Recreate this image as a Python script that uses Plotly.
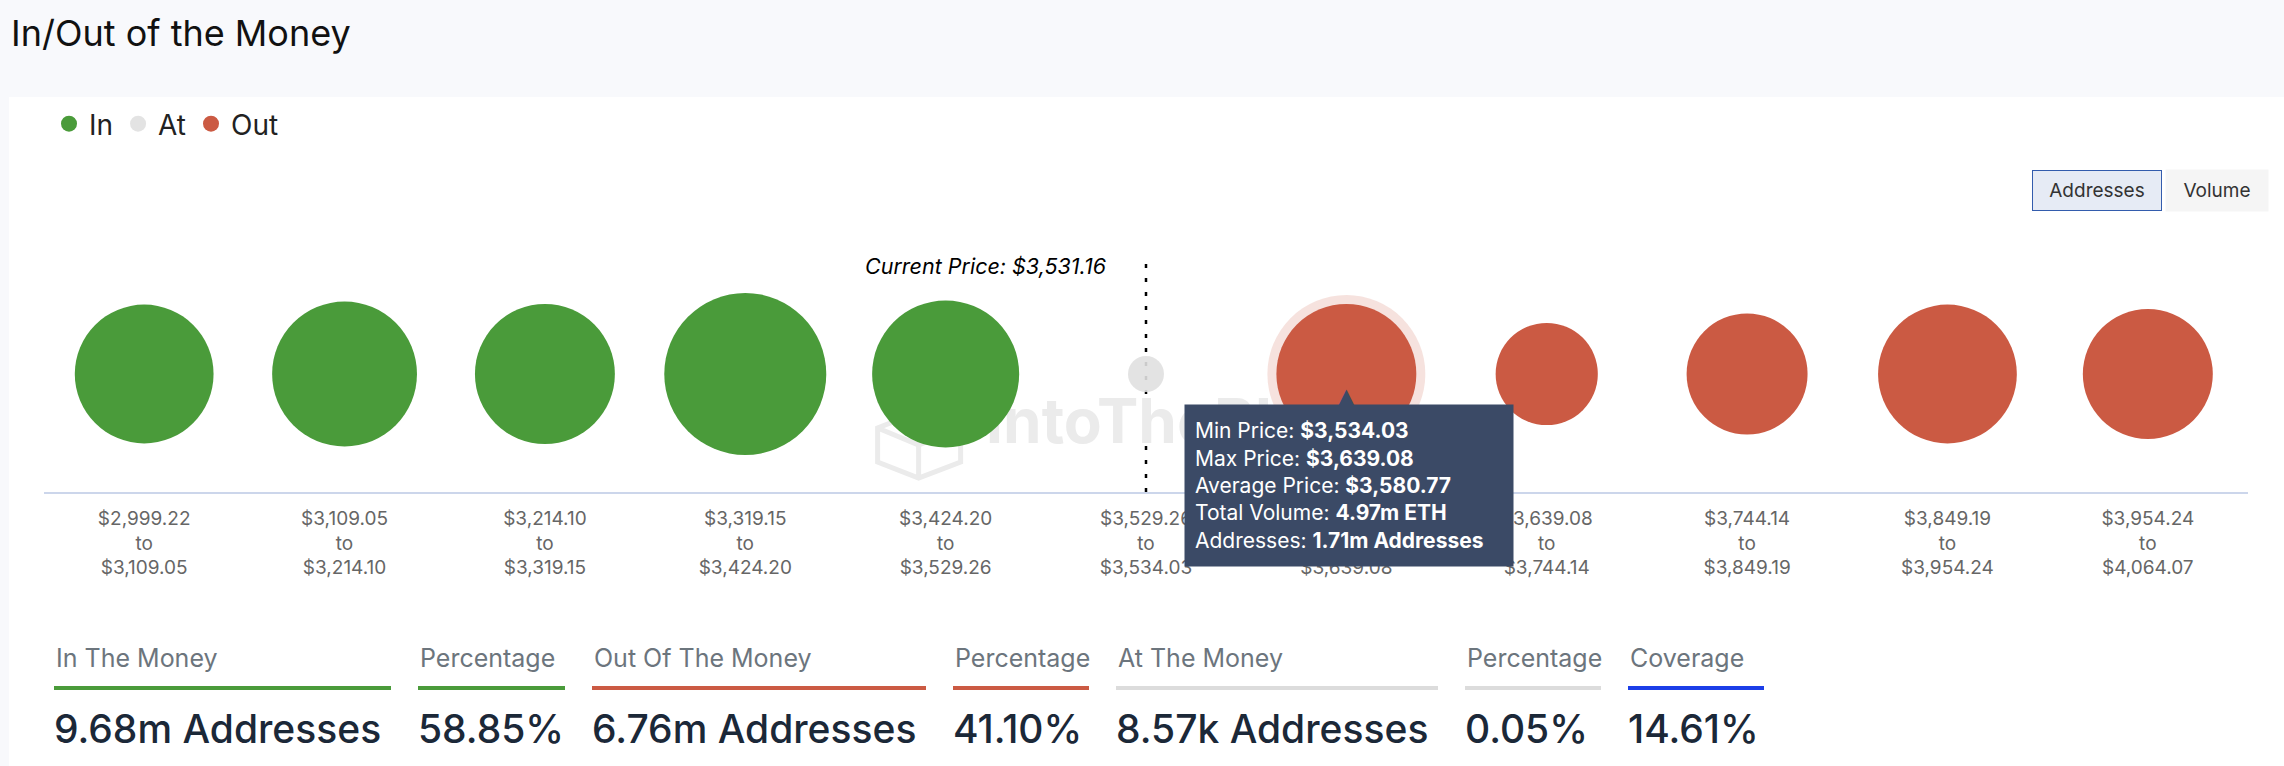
import plotly.graph_objects as go

# price buckets
bin_low = ["$2,999.22", "$3,109.05", "$3,214.10", "$3,319.15", "$3,424.20", "$3,529.26",
           "$3,534.03", "$3,639.08", "$3,744.14", "$3,849.19", "$3,954.24"]
bin_high = ["$3,109.05", "$3,214.10", "$3,319.15", "$3,424.20", "$3,529.26", "$3,534.03",
            "$3,639.08", "$3,744.14", "$3,849.19", "$3,954.24", "$4,064.07"]

# addresses per bucket, millions
in_addresses = [1.68, 1.84, 1.71, 2.33, 1.90]
at_addresses = [0.00857]
out_addresses = [1.71, 0.86, 1.25, 1.68, 1.46]

current_price = "$3,531.16"

# hovered bucket (tooltip)
tip_bin = 6
tip_rows = [("Min Price", "$3,534.03"), ("Max Price", "$3,639.08"), ("Average Price", "$3,580.77"),
            ("Total Volume", "4.97m ETH"), ("Addresses", "1.71m Addresses")]

# summary row
stat_titles = ["In The Money", "Percentage", "Out Of The Money", "Percentage",
               "At The Money", "Percentage", "Coverage"]
stat_values = ["9.68m Addresses", "58.85%", "6.76m Addresses", "41.10%",
               "8.57k Addresses", "0.05%", "14.61%"]

GREEN = "#4a9b3a"
RED = "#cb5a43"
GREY = "#e0e0e0"
BLUE = "#1c3ee8"
WATERMARK = "#ebebeb"
stat_colors = [GREEN, GREEN, RED, RED, "#dcdcdc", "#dcdcdc", BLUE]
stat_left = [54, 418, 592, 953, 1116, 1465, 1628]
stat_right = [391, 565, 926, 1089, 1438, 1601, 1764]

W, H = 2284, 766
ML, MR, MT, MB = 44, 36, 256, 274
PW = W - ML - MR
PH = H - MT - MB


def px2x(px):
    return (px - ML) / PW


def px2y(py):
    return (H - MB - py) / PH


# bubble diameter (highcharts style: area between min and max size)
all_vals = in_addresses + at_addresses + out_addresses
zmin, zmax = min(all_vals), max(all_vals)
DMIN, DMAX = 36, 162


def bubble(v):
    pos = (v - zmin) / (zmax - zmin)
    return (DMIN ** 2 + pos * (DMAX ** 2 - DMIN ** 2)) ** 0.5


n_in = len(in_addresses)
in_x = list(range(n_in))
at_x = [n_in + i for i in range(len(at_addresses))]
out_x = [n_in + len(at_addresses) + i for i in range(len(out_addresses))]
all_x = in_x + at_x + out_x

fig = go.Figure()

# watermark text
fig.add_trace(go.Scatter(
    x=[4.2], y=[-0.45], mode="text", text=["IntoTheBlock"], textposition="middle right",
    textfont=dict(family="Inter", size=62, color=WATERMARK, weight=700),
    showlegend=False, hoverinfo="skip"))

# hover halo
fig.add_trace(go.Scatter(
    x=[all_x[tip_bin]], y=[0], mode="markers", showlegend=False, hoverinfo="skip",
    marker=dict(size=[bubble(all_vals[tip_bin]) + 18], sizemode="diameter",
                color="rgba(203,90,67,0.25)", line=dict(width=0))))

for name, xs, vals, col in [("In", in_x, in_addresses, GREEN),
                            ("At", at_x, at_addresses, GREY),
                            ("Out", out_x, out_addresses, RED)]:
    fig.add_trace(go.Scatter(
        x=xs, y=[0] * len(xs), mode="markers", name=name,
        marker=dict(size=[bubble(v) for v in vals], sizemode="diameter",
                    color=col, opacity=0.9 if name == "At" else 1, line=dict(width=0))))

ann = []
ann.append(dict(xref="paper", yref="paper", x=px2x(9), y=px2y(33), xanchor="left", yanchor="middle",
                text="In/Out of the Money", showarrow=False,
                font=dict(family="Inter", size=36, color="#111111", weight=400)))
# buttons
ann.append(dict(xref="paper", yref="paper", x=px2x(2097), y=px2y(190), xanchor="center", yanchor="middle",
                text="Addresses", showarrow=False, width=124, height=35, bgcolor="#e6ebf5",
                bordercolor="#335cad", borderwidth=1, borderpad=2,
                font=dict(family="Inter", size=19, color="#333333")))
ann.append(dict(xref="paper", yref="paper", x=px2x(2217), y=px2y(190), xanchor="center", yanchor="middle",
                text="Volume", showarrow=False, width=96, height=35, bgcolor="#f5f5f5",
                borderpad=3, font=dict(family="Inter", size=19, color="#333333")))
# current price
ann.append(dict(xref="x", yref="paper", x=at_x[0], y=1, xanchor="right", yanchor="middle",
                xshift=-38, yshift=-10, text="<i>Current Price: " + current_price + "</i>",
                showarrow=False, font=dict(family="Inter", size=21.5, color="#000000")))
# tooltip
tip_text = "<br>".join(f"{k}: <b>{v}</b>" for k, v in tip_rows)
ann.append(dict(xref="x", yref="y", x=all_x[tip_bin], y=0, xanchor="center", yanchor="top",
                xshift=3, yshift=-30, text=tip_text, showarrow=False, align="left", valign="middle",
                width=308, height=141, borderpad=10, bgcolor="#3b4a66",
                font=dict(family="Inter", size=21, color="#ffffff")))
ann.append(dict(xref="x", yref="y", x=all_x[tip_bin], y=0, xanchor="center", yanchor="bottom",
                yshift=-39, text="▲", showarrow=False,
                font=dict(family="DejaVu Sans", size=24, color="#3b4a66")))
# summary row
for t, v, xl in zip(stat_titles, stat_values, stat_left):
    ann.append(dict(xref="paper", yref="paper", x=px2x(xl), y=px2y(658), xanchor="left", yanchor="middle",
                    text=t, showarrow=False, font=dict(family="Inter", size=25, color="#6c757d")))
    ann.append(dict(xref="paper", yref="paper", x=px2x(xl - 2), y=px2y(728), xanchor="left", yanchor="middle",
                    text=v, showarrow=False,
                    font=dict(family="Inter", size=39, color="#1b2838", weight=500)))

shapes = [dict(type="rect", xref="paper", yref="paper", x0=px2x(9), x1=px2x(W), y0=px2y(H), y1=px2y(97),
               fillcolor="#ffffff", line=dict(width=0), layer="below"),
          dict(type="line", xref="x", yref="paper", x0=at_x[0], x1=at_x[0], y0=0, y1=1,
               line=dict(color="#000000", width=2.5, dash="4px,10px"), layer="below"),
          # watermark cube logo, pixel offsets from the 5th bucket centre
          dict(type="path", xref="x", yref="y", xsizemode="pixel", ysizemode="pixel",
               xanchor=in_x[-1], yanchor=0,
               path="M -27,-38 L 15,-54 L 15,-88 L -27,-104 L -68,-88 L -68,-54 Z "
                    "M -68,-54 L -27,-71 L 15,-54 M -27,-71 L -27,-104",
               line=dict(color=WATERMARK, width=5), layer="below")]
for xl, xr, c in zip(stat_left, stat_right, stat_colors):
    shapes.append(dict(type="line", xref="paper", yref="paper", x0=px2x(xl), x1=px2x(xr),
                       y0=px2y(688), y1=px2y(688), line=dict(color=c, width=4)))

fig.update_layout(
    width=W, height=H,
    margin=dict(l=ML, r=MR, t=MT, b=MB),
    paper_bgcolor="#f8f9fc", plot_bgcolor="rgba(0,0,0,0)",
    font=dict(family="Inter"),
    hovermode=False,
    xaxis=dict(range=[-0.5, len(all_x) - 0.5], tickvals=all_x,
               ticktext=[f"{lo}<br>to<br>{hi}" for lo, hi in zip(bin_low, bin_high)],
               showgrid=False, zeroline=False, showline=True, linecolor="#ccd6eb", linewidth=2,
               ticks="", ticklabelstandoff=8,
               tickfont=dict(family="Inter", size=19, color="#666666"), fixedrange=True),
    yaxis=dict(range=[-1, 1], visible=False, fixedrange=True),
    legend=dict(orientation="h", x=px2x(49), y=px2y(124), xanchor="left", yanchor="middle",
                font=dict(family="Inter", size=28, color="#222222"), itemsizing="trace",
                bgcolor="rgba(0,0,0,0)", itemclick=False, itemdoubleclick=False),
    annotations=ann, shapes=shapes,
)

fig.write_html("out.html", config={"displayModeBar": False},
               post_script="document.body.style.margin='0px';document.body.style.overflow='hidden';")
